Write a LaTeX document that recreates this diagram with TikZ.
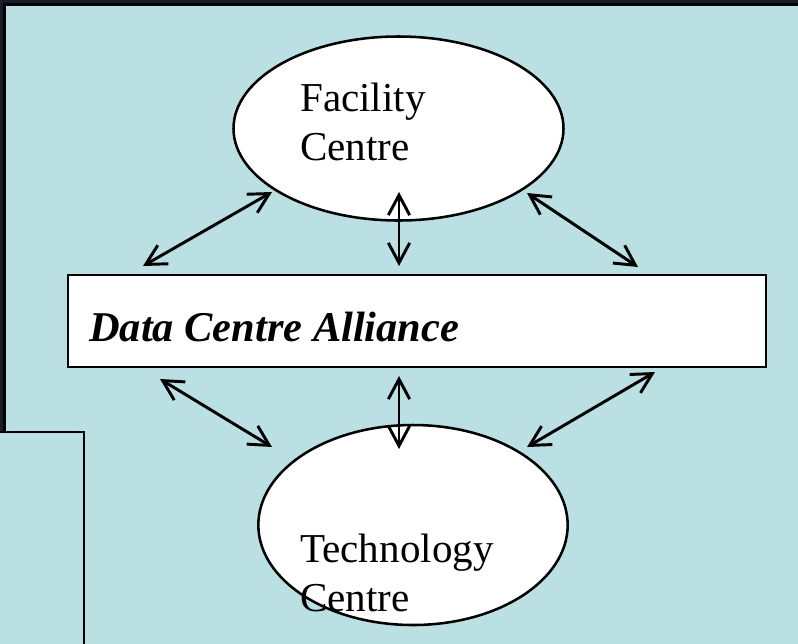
\documentclass[tikz,border=0pt]{standalone}
\usepackage{fontspec}
\setmainfont{Liberation Serif}
\usetikzlibrary{shapes.geometric,arrows.meta}
\definecolor{panelblue}{RGB}{186,224,227}
\definecolor{navy}{RGB}{22,28,44}

\begin{document}
\begin{tikzpicture}[x=0.75pt,y=-0.75pt,
    centre/.style={ellipse,draw=black,fill=white,line width=1.9pt,inner sep=0pt},
    label/.style={align=left,inner sep=0pt,anchor=north west,font=\fontsize{30.8}{36.5}\selectfont},
    link/.style={{Straight Barb[length=15pt,width=16pt]}-{Straight Barb[length=15pt,width=16pt]},line width=2.2pt}]
    \clip (0,0) rectangle (798,643);
    % background and panels
    \fill[navy] (0,0) rectangle (798,643);
    \draw[fill=panelblue,line width=2.2pt] (4.5,4.5) rectangle (820,670);
    \draw[fill=panelblue,line width=2.2pt] (-20,432) rectangle (84,670);
    % the three boxes
    \node[centre,minimum width=247.5pt,minimum height=138pt] (fac) at (398.5,128.5) {};
    \node[label] (factext) at (300,83) {Facility\\Centre};
    \node[draw=black,fill=white,line width=2.1pt,minimum width=523.5pt,minimum height=69pt,inner sep=0pt] (dca) at (417,321) {};
    \node[inner sep=0pt,anchor=base west,font=\fontsize{31.8}{36}\selectfont\bfseries\itshape] (dcatext) at (89,341) {Data Centre Alliance};
    \node[centre,minimum width=232pt,minimum height=150pt] (tech) at (413,525) {};
    \node[label] (techtext) at (300,534) {Technology\\Centre};
    % arrow end points
    \coordinate (a1) at (143,266); \coordinate (b1) at (272,192);
    \coordinate (a2) at (399,266); \coordinate (b2) at (399,192);
    \coordinate (a3) at (638,267); \coordinate (b3) at (527,193);
    \coordinate (a4) at (160,379); \coordinate (b4) at (272,447);
    \coordinate (a5) at (399,376); \coordinate (b5) at (399,449);
    \coordinate (a6) at (655,372); \coordinate (b6) at (527,447);
    \foreach \i in {1,...,6}
        \draw[link] (a\i) -- (b\i);
\end{tikzpicture}
\end{document}
